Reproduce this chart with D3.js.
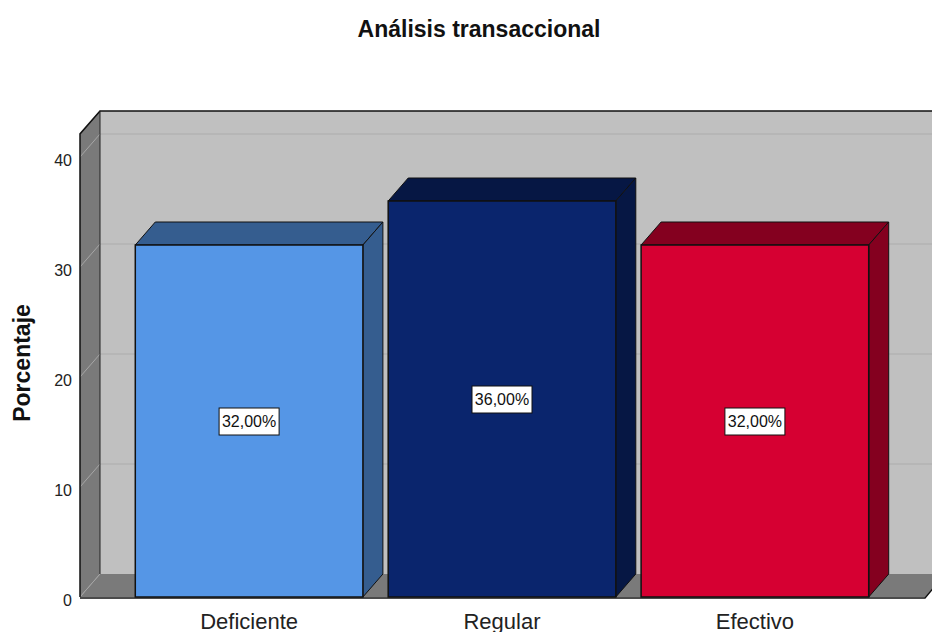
<!DOCTYPE html>
<html lang="es">
<head>
    <meta charset="UTF-8">
    <title>Análisis transaccional</title>
    <script src="https://d3js.org/d3.v7.min.js"></script>
    <style>
        body { margin: 0; background: #fff; }
        text { font-family: "Liberation Sans", Arial, sans-serif; }
    </style>
</head>
<body>
    <script>
        // Data
        const categories = ['Deficiente', 'Regular', 'Efectivo'];
        const percentages = [32, 36, 32];
        const valueLabels = ['32,00%', '36,00%', '32,00%'];
        const yTicks = [0, 10, 20, 30, 40];
        const frontColors = ['#5596e6', '#0a256d', '#d60032'];
        const shadeColors = ['#355d8f', '#061744', '#84001f'];

        const width = 932;
        const height = 632;

        // 3D depth offset
        const dx = 20;
        const dy = -23;

        const svg = d3.select('body').append('svg')
            .attr('width', width)
            .attr('height', height);

        svg.append('rect').attr('width', width).attr('height', height).attr('fill', '#fff');

        const y = d3.scaleLinear().domain([0, 40]).range([597, 157]);
        const x = d3.scaleBand().domain(categories).range([110, 894]).padding(0.1);

        const wallLeft = 80;
        const wallRight = 925;
        const y0 = y(0);
        const yTop = y(42.1);

        const poly = pts => pts.map(p => p.join(',')).join(' ');

        // Back wall
        svg.append('polygon')
            .attr('points', poly([[wallLeft + dx, yTop + dy], [wallRight + dx, yTop + dy], [wallRight + dx, y0 + dy], [wallLeft + dx, y0 + dy]]))
            .attr('fill', '#c0c0c0');

        // Side wall
        svg.append('polygon')
            .attr('points', poly([[wallLeft, yTop], [wallLeft + dx, yTop + dy], [wallLeft + dx, y0 + dy], [wallLeft, y0]]))
            .attr('fill', '#7a7a7a');

        // Floor
        svg.append('polygon')
            .attr('points', poly([[wallLeft, y0], [wallLeft + dx, y0 + dy], [wallRight + dx, y0 + dy], [wallRight, y0]]))
            .attr('fill', '#7a7a7a');

        // Gridlines
        svg.selectAll('.grid-back')
            .data(yTicks.filter(t => t > 0))
            .enter().append('line')
            .attr('x1', wallLeft + dx).attr('x2', wallRight + dx)
            .attr('y1', d => y(d) + dy).attr('y2', d => y(d) + dy)
            .attr('stroke', '#acacac');

        svg.selectAll('.grid-side')
            .data(yTicks)
            .enter().append('line')
            .attr('x1', wallLeft).attr('x2', wallLeft + dx)
            .attr('y1', d => y(d)).attr('y2', d => y(d) + dy)
            .attr('stroke', '#a6a6a6');

        // Wall outlines
        svg.append('polyline')
            .attr('points', poly([[wallLeft, y0], [wallLeft, yTop], [wallLeft + dx, yTop + dy], [wallRight + dx + 20, yTop + dy]]))
            .attr('fill', 'none').attr('stroke', '#111').attr('stroke-width', 1.5);
        svg.append('line')
            .attr('x1', wallLeft + dx).attr('x2', wallLeft + dx)
            .attr('y1', yTop + dy).attr('y2', y0 + dy)
            .attr('stroke', '#222');
        svg.append('polyline')
            .attr('points', poly([[wallLeft, y0 + 1], [wallRight, y0 + 1], [wallRight + dx, y0 + dy]]))
            .attr('fill', 'none').attr('stroke', '#111').attr('stroke-width', 1.5);

        // Bars
        const bars = svg.selectAll('.bar')
            .data(categories.map((c, i) => ({ cat: c, v: percentages[i], i })))
            .enter().append('g');

        bars.append('polygon')
            .attr('points', d => {
                const x0 = x(d.cat), x1 = x0 + x.bandwidth(), yv = y(d.v);
                return poly([[x0, yv], [x0 + dx, yv + dy], [x1 + dx, yv + dy], [x1, yv]]);
            })
            .attr('fill', d => shadeColors[d.i])
            .attr('stroke', '#111').attr('stroke-width', 1);

        bars.append('polygon')
            .attr('points', d => {
                const x1 = x(d.cat) + x.bandwidth(), yv = y(d.v);
                return poly([[x1, yv], [x1 + dx, yv + dy], [x1 + dx, y0 + dy], [x1, y0]]);
            })
            .attr('fill', d => shadeColors[d.i])
            .attr('stroke', '#111').attr('stroke-width', 1);

        bars.append('rect')
            .attr('x', d => x(d.cat))
            .attr('y', d => y(d.v))
            .attr('width', x.bandwidth())
            .attr('height', d => y0 - y(d.v))
            .attr('fill', d => frontColors[d.i])
            .attr('stroke', '#111').attr('stroke-width', 1.5);

        // Value labels
        bars.append('rect')
            .attr('x', d => x(d.cat) + x.bandwidth() / 2 - 30)
            .attr('y', d => (y(d.v) + y0) / 2 - 13)
            .attr('width', 60).attr('height', 27)
            .attr('fill', '#fff').attr('stroke', '#111').attr('stroke-width', 1);

        bars.append('text')
            .attr('x', d => x(d.cat) + x.bandwidth() / 2)
            .attr('y', d => (y(d.v) + y0) / 2 + 6)
            .attr('text-anchor', 'middle')
            .attr('font-size', 16)
            .attr('fill', '#111')
            .text(d => valueLabels[d.i]);

        // Y tick labels
        svg.selectAll('.ytick')
            .data(yTicks)
            .enter().append('text')
            .attr('x', 72)
            .attr('y', d => y(d) + 9)
            .attr('text-anchor', 'end')
            .attr('font-size', 16)
            .attr('fill', '#222')
            .text(d => d);

        // X labels
        svg.selectAll('.xlabel')
            .data(categories)
            .enter().append('text')
            .attr('x', d => x(d) + x.bandwidth() / 2)
            .attr('y', 629)
            .attr('text-anchor', 'middle')
            .attr('font-size', 22)
            .attr('fill', '#222')
            .text(d => d);

        // Axis title
        svg.append('text')
            .attr('transform', 'translate(30,363) rotate(-90)')
            .attr('text-anchor', 'middle')
            .attr('font-size', 23)
            .attr('font-weight', 'bold')
            .attr('fill', '#111')
            .text('Porcentaje');

        // Title
        svg.append('text')
            .attr('x', 479)
            .attr('y', 37)
            .attr('text-anchor', 'middle')
            .attr('font-size', 23)
            .attr('font-weight', 'bold')
            .attr('fill', '#111')
            .text('Análisis transaccional');
    </script>
</body>
</html>
